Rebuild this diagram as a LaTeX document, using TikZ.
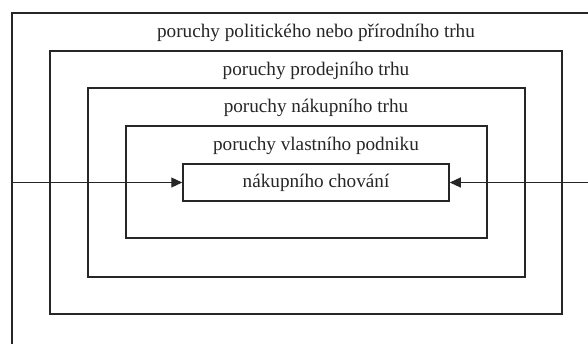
\documentclass[tikz,border=0pt]{standalone}
\usepackage{fontspec}
\setmainfont{Liberation Serif}
\usetikzlibrary{arrows.meta}
\begin{document}
\begin{tikzpicture}[x=1pt,y=-1pt,
  frame/.style={draw=black!85,line width=1.5pt},
  lbl/.style={font=\fontsize{19.2}{21}\selectfont,text=black!85,inner sep=0pt},
  conn/.style={draw=black!85,line width=1.1pt,-{Triangle[length=11pt,width=10pt]}}]
\useasboundingbox (0,0) rectangle (588,344);
% outer (open) frame
\draw[frame] (588,13) -- (12,13) -- (12,344);
% nested boxes
\node[frame,minimum width=512pt,minimum height=263pt,inner sep=0pt] (b2) at (306,182.5) {};
\node[frame,minimum width=437pt,minimum height=189pt,inner sep=0pt] (b3) at (306.5,182.5) {};
\node[frame,minimum width=361pt,minimum height=112pt,inner sep=0pt] (b4) at (306.5,182) {};
\node[frame,minimum width=266pt,minimum height=37pt,inner sep=0pt] (inner) at (316,182.5) {};
% labels
\node[lbl] (t1) at (316,33) {poruchy politického nebo přírodního trhu};
\node[lbl] (t2) at (316,71) {poruchy prodejního trhu};
\node[lbl] (t3) at (316,108) {poruchy nákupního trhu};
\node[lbl] (t4) at (316,146) {poruchy vlastního podniku};
\node[lbl] (t5) at (316,183) {nákupního chování};
% connectors
\coordinate (L) at (12,182.5);
\coordinate (R) at (588,182.5);
\draw[conn] (L) -- (inner.west);
\draw[conn] (R) -- (inner.east);
\end{tikzpicture}
\end{document}
